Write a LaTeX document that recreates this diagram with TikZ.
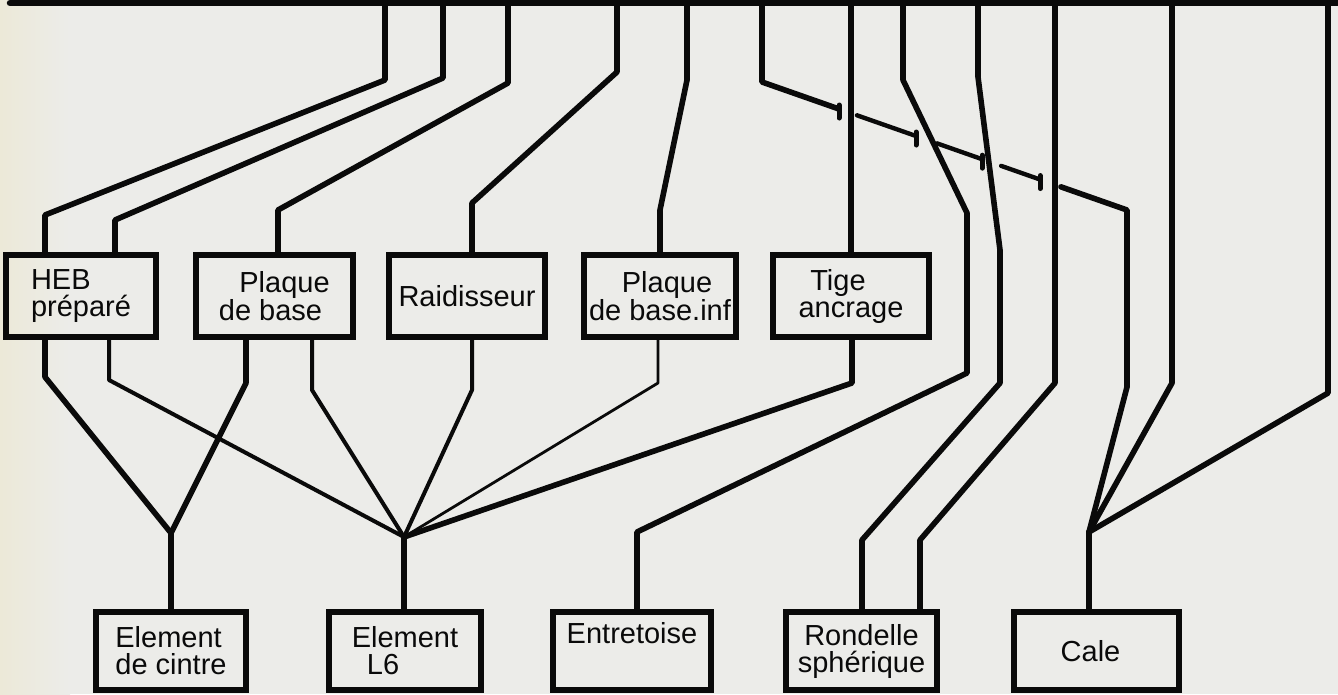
\documentclass[tikz,border=0pt]{standalone}
\usepackage{fontspec}
\setmainfont{Liberation Sans}
\usetikzlibrary{calc}
\definecolor{paper}{RGB}{236,236,233}
\definecolor{paperleft}{RGB}{236,233,216}
\definecolor{ink}{RGB}{10,10,10}
\begin{document}
\begin{tikzpicture}[x=1pt,y=-1pt,
  wire/.style={draw=ink,line width=5.6pt,line join=round,line cap=round},
  midwire/.style={draw=ink,line width=4pt,line join=round,line cap=round},
  thinwire/.style={draw=ink,line width=2.8pt,line join=round,line cap=round},
  dashseg/.style={draw=ink,line width=4.4pt,line cap=round},
  tickmark/.style={draw=ink,line width=5pt,line cap=round},
  box/.style={draw=ink,line width=5.6pt,inner sep=0pt,text=ink,
    font=\fontsize{29}{27}\selectfont,align=center},
  toprow/.style={box,minimum height=82pt},
  botrow/.style={box,minimum height=78pt}
]
\useasboundingbox (0,0) rectangle (1338,694);
\fill[paper] (0,0) rectangle (1338,694);
\shade[left color=paperleft,right color=paper] (0,0) rectangle (70,694);

% top bus
\coordinate (b0) at (10,3);
\coordinate (b1) at (1338,3);
\draw[wire,line width=6.5pt] (b0) -- (b1);
\coordinate (t1) at (385,3);
\coordinate (t2) at (443,3);
\coordinate (t3) at (508,3);
\coordinate (t4) at (617,3);
\coordinate (t5) at (687,3);
\coordinate (t6) at (762,3);
\coordinate (t7) at (851,3);
\coordinate (t8) at (903,3);
\coordinate (t9) at (978,3);
\coordinate (t10) at (1055,3);
\coordinate (t11) at (1172,3);
\coordinate (t12) at (1328,3);

% boxes, upper row
\node[toprow,minimum width=150pt,align=left] (heb) at (81,296) {HEB\\préparé};
\node[toprow,minimum width=157pt] (plaque) at (274.5,296) {\hspace*{20pt}Plaque\\de base\hspace*{8pt}};
\node[toprow,minimum width=156pt] (raid) at (467,296) {Raidisseur};
\node[toprow,minimum width=152pt] (pinf) at (660,296) {\hspace*{14pt}Plaque\\de base.inf};
\node[toprow,minimum width=156pt] (tige) at (851,296) {Tige\hspace*{26pt}\\ancrage};

% boxes, lower row
\node[botrow,minimum width=150pt,align=left] (cintre) at (171,651) {Element\\de cintre};
\node[botrow,minimum width=152pt] (l6) at (405,651) {Element\\L6\hspace*{44pt}};
\node[botrow,minimum width=158pt] (entr) at (632,651) {Entretoise\\\strut};
\node[botrow,minimum width=151pt] (rond) at (861.5,651) {Rondelle\\sphérique};
\node[botrow,minimum width=165pt] (cale) at (1096.5,651) {Cale\hspace*{12pt}};

% junctions
\coordinate (jc) at (171,533);
\coordinate (jl) at (404,537);
\coordinate (jk) at (1089,532);

% from bus to upper row
\draw[wire] (t1) -- (385,80) -- (45,215) -- ([xshift=-36pt]heb.north);
\draw[wire] (t2) -- (443,78) -- (115,220) -- ([xshift=34pt]heb.north);
\draw[wire] (t3) -- (508,83) -- (278,210) -- ([xshift=3.5pt]plaque.north);
\draw[wire] (t4) -- (617,72) -- (472,203) -- ([xshift=5pt]raid.north);
\draw[wire] (t5) -- (687,80) -- (660,210) -- (pinf.north);
\draw[wire] (t7) -- (tige.north);

% dashed connector from bus to Cale
\coordinate (d0) at (762,82);
\coordinate (d1) at (1127,210);
\draw[wire] (t6) -- (d0) -- ($(d0)!0.211!(d1)$);
\draw[tickmark] ($(d0)!0.211!(d1)+(0,-4)$) -- ++(0,13);
\draw[dashseg] ($(d0)!0.260!(d1)$) -- ($(d0)!0.422!(d1)$);
\draw[tickmark] ($(d0)!0.422!(d1)+(0,-4)$) -- ++(0,13);
\draw[dashseg] ($(d0)!0.479!(d1)$) -- ($(d0)!0.603!(d1)$);
\draw[tickmark] ($(d0)!0.603!(d1)+(0,-4)$) -- ++(0,13);
\draw[dashseg] ($(d0)!0.655!(d1)$) -- ($(d0)!0.762!(d1)$);
\draw[tickmark] ($(d0)!0.762!(d1)+(0,-4)$) -- ++(0,13);
\draw[wire] ($(d0)!0.819!(d1)$) -- (d1) -- (1127,387) -- (jk);

% bus to lower row
\draw[wire] (t8) -- (903,80) -- (967,213) -- (967,373) -- (637,532) -- ([xshift=5pt]entr.north);
\draw[wire] (t9) -- (978,77) -- (1000,250) -- (1000,383) -- (862,540) -- ([xshift=0.5pt]rond.north);
\draw[wire] (t10) -- (1055,383) -- (920,540) -- ([xshift=58.5pt]rond.north);
\draw[wire] (t11) -- (1172,383) -- (jk);
\draw[wire] (t12) -- (1328,393) -- (jk);
\draw[wire] (jk) -- ([xshift=-7.5pt]cale.north);

% upper row to lower row
\draw[wire] ([xshift=-36pt]heb.south) -- (45,377) -- (jc);
\draw[midwire] ([xshift=28pt]heb.south) -- (109,380) -- (jl);
\draw[wire] ([xshift=-28.5pt]plaque.south) -- (246,383) -- (jc);
\draw[midwire] ([xshift=37.5pt]plaque.south) -- (312,390) -- (jl);
\draw[midwire] ([xshift=5pt]raid.south) -- (472,390) -- (jl);
\draw[thinwire] ([xshift=-2pt]pinf.south) -- (658,383) -- (jl);
\draw[wire] ([xshift=1pt]tige.south) -- (852,383) -- (jl);
\draw[wire] (jc) -- (cintre.north);
\draw[wire] (jl) -- ([xshift=-1pt]l6.north);
\end{tikzpicture}
\end{document}
